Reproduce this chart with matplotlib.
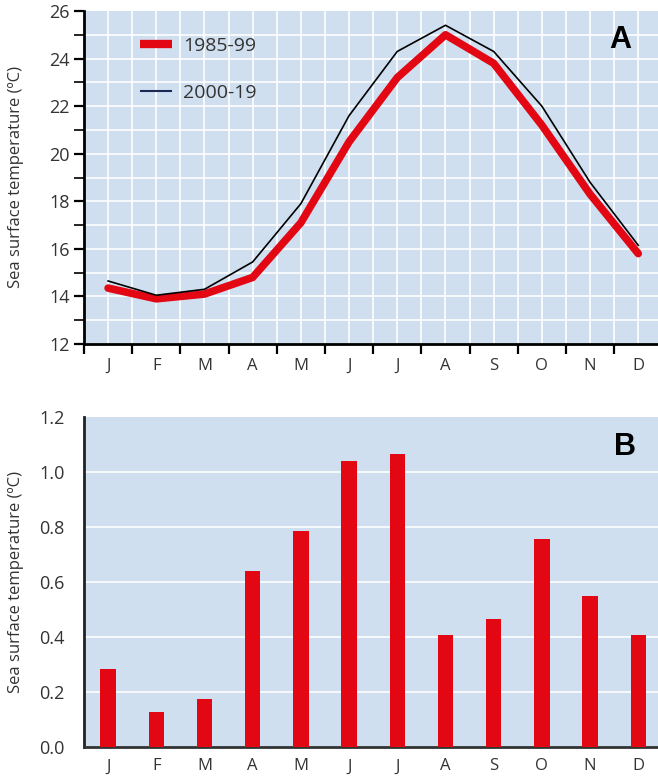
import matplotlib
matplotlib.use("Agg")
import matplotlib.pyplot as plt
from matplotlib.lines import Line2D
import numpy as np

months = ["J", "F", "M", "A", "M", "J", "J", "A", "S", "O", "N", "D"]
sst_1985_99 = [14.35, 13.9, 14.1, 14.8, 17.1, 20.5, 23.2, 25.0, 23.8, 21.2, 18.3, 15.8]
sst_2000_19 = [14.65, 14.05, 14.3, 15.45, 17.9, 21.6, 24.3, 25.4, 24.3, 22.0, 18.8, 16.15]
sst_diff = [0.285, 0.128, 0.175, 0.64, 0.785, 1.04, 1.065, 0.408, 0.466, 0.756, 0.549, 0.408]

plt.rcParams['font.family'] = ['Open Sans', 'DejaVu Sans']
BG = "#cfdff0"
RED = "#e30613"
TXT = "#333333"

fig = plt.figure(figsize=(6.58, 7.78), dpi=100)
axA = fig.add_axes([84/658, 1-344/778, 1-84/658, (344-11)/778])
axB = fig.add_axes([84/658, 1-747.3/778, 1-84/658, (747.3-417)/778])

x = np.arange(len(months)) + 0.5

# Panel A
axA.set_facecolor(BG)
axA.plot(x, sst_1985_99, color=RED, lw=5.5, solid_capstyle='round', solid_joinstyle='round', zorder=3)
axA.plot(x, sst_2000_19, color="black", lw=1.2, zorder=4)
axA.set_xlim(0, 11.91)
axA.set_ylim(12, 26)
axA.set_yticks(np.arange(12, 27, 2))
axA.set_yticks(np.arange(13, 26, 2), minor=True)
axA.set_xticks(x)
axA.set_xticklabels(months)
axA.set_xticks(np.arange(0, 12), minor=True)
axA.tick_params(axis='x', which='major', length=0, pad=10, labelsize=12, labelcolor=TXT)
axA.tick_params(axis='x', which='minor', length=7, width=1.6, color='black')
axA.tick_params(axis='y', which='major', length=7, width=1.6, labelsize=13, labelcolor=TXT, pad=3)
axA.tick_params(axis='y', which='minor', length=7, width=1.2)
axA.grid(False)
for v in np.arange(0.5, 12, 0.5):
    axA.axvline(v, color="white", lw=1.2, zorder=1)
for v in np.arange(13, 26, 1):
    axA.axhline(v, color="white", lw=1.2, zorder=1)
for s in ['top', 'right']:
    axA.spines[s].set_visible(False)
for s in ['left', 'bottom']:
    axA.spines[s].set_linewidth(2)
    axA.spines[s].set_color('black')
axA.set_ylabel("Sea surface temperature (ºC)", fontsize=12, color=TXT)
axA.text(0.934, 0.913, "A", transform=axA.transAxes, fontsize=22, fontweight='bold',
         family='Liberation Sans', ha='center', va='center', color='black')
handles = [Line2D([0], [0], color=RED, lw=6, solid_capstyle='butt'),
           Line2D([0], [0], color="#1a2a55", lw=1.5, solid_capstyle='butt')]
axA.legend(handles, ["1985-99", "2000-19"], loc='upper left', bbox_to_anchor=(0.067, 0.975),
           frameon=False, fontsize=14, handlelength=1.65, handletextpad=0.55, labelspacing=1.5,
           labelcolor=TXT)

# Panel B
axB.set_facecolor(BG)
axB.bar(x, sst_diff, width=0.32, color=RED, zorder=3)
axB.set_xlim(0, 11.91)
axB.set_ylim(0, 1.2)
axB.set_yticks(np.arange(0, 1.21, 0.2))
axB.set_yticklabels([f"{v:.1f}" for v in np.arange(0, 1.21, 0.2)])
axB.set_xticks(x)
axB.set_xticklabels(months)
axB.tick_params(axis='x', length=0, pad=8, labelsize=12, labelcolor=TXT)
axB.tick_params(axis='y', length=0, labelsize=13, labelcolor=TXT, pad=14)
for v in np.arange(0.2, 1.2, 0.2):
    axB.axhline(v, color="white", lw=1.2, zorder=1)
for s in ['top', 'right']:
    axB.spines[s].set_visible(False)
axB.spines['left'].set_linewidth(2)
axB.spines['left'].set_color('#222222')
axB.spines['bottom'].set_linewidth(2)
axB.spines['bottom'].set_color('#333333')
axB.set_ylabel("Sea surface temperature (ºC)", fontsize=12, color=TXT)
axB.text(0.942, 0.909, "B", transform=axB.transAxes, fontsize=22, fontweight='bold',
         family='Liberation Sans', ha='center', va='center', color='black')

axA.yaxis.set_label_coords(-0.104, 0.5)
axB.yaxis.set_label_coords(-0.104, 0.5)

fig.savefig("out.png", dpi=100)
